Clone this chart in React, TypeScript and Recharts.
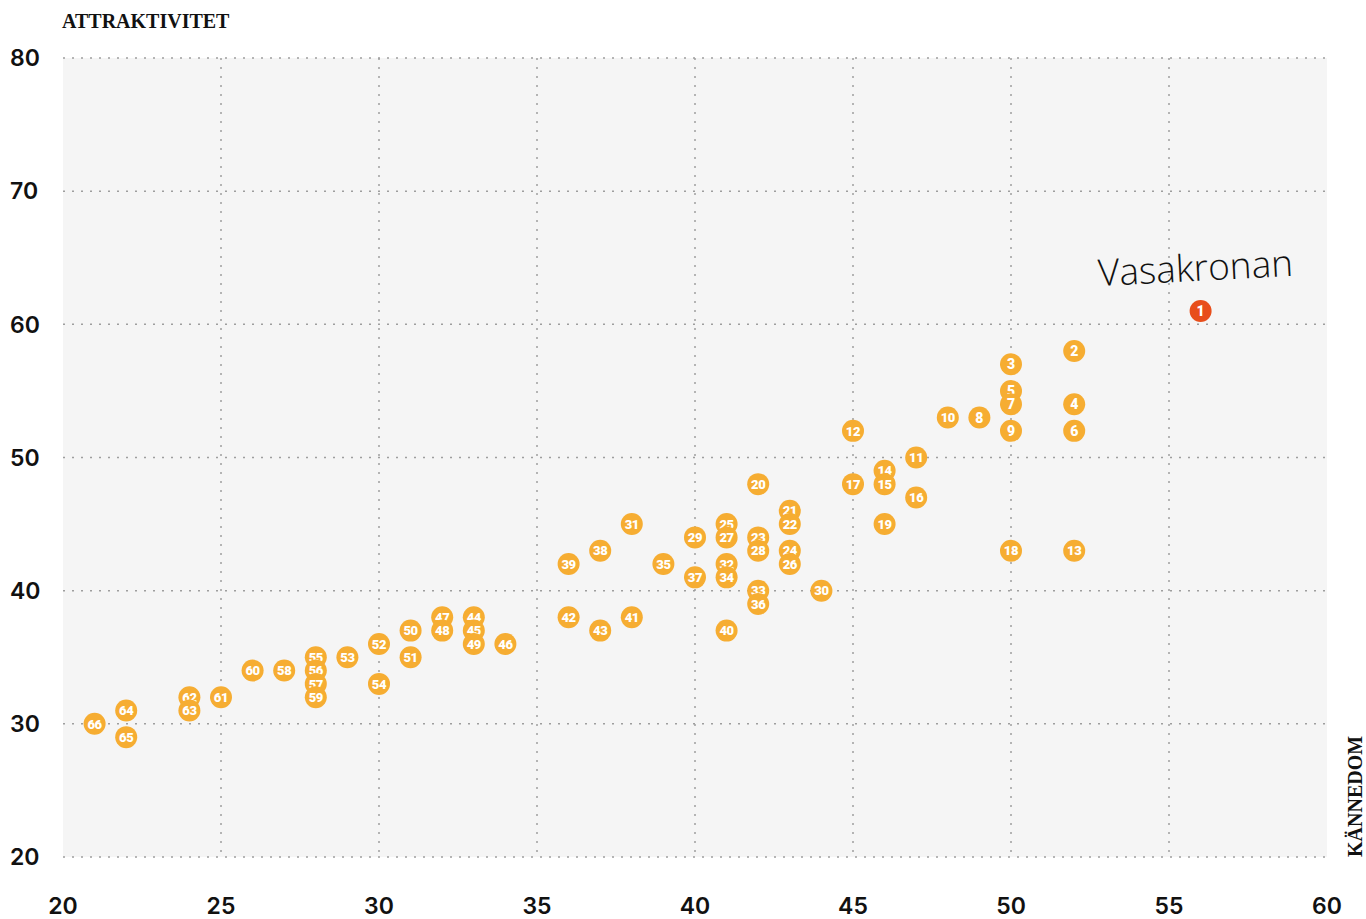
import React from 'react';
import {
    ScatterChart,
    Scatter,
    XAxis,
    YAxis,
    CartesianGrid,
} from 'recharts';

// rank numbers shown inside the dots
const ids = [
    2, 3, 4, 5, 6, 7, 8, 9, 10, 11, 12, 13, 14, 15, 16, 17, 18, 19, 20, 21,
    22, 23, 24, 25, 26, 27, 28, 29, 30, 31, 32, 33, 34, 35, 36, 37, 38, 39, 40, 41,
    42, 43, 44, 45, 46, 47, 48, 49, 50, 51, 52, 53, 54, 55, 56, 57, 58, 59, 60, 61,
    62, 63, 64, 65, 66,
];
// kännedom (x)
const kannedom = [
    52, 50, 52, 50, 52, 50, 49, 50, 48, 47, 45, 52, 46, 46, 47, 45, 50, 46, 42, 43,
    43, 42, 43, 41, 43, 41, 42, 40, 44, 38, 41, 42, 41, 39, 42, 40, 37, 36, 41, 38,
    36, 37, 33, 33, 34, 32, 32, 33, 31, 31, 30, 29, 30, 28, 28, 28, 27, 28, 26, 25,
    24, 24, 22, 22, 21,
];
// attraktivitet (y)
const attraktivitet = [
    58, 57, 54, 55, 52, 54, 53, 52, 53, 50, 52, 43, 49, 48, 47, 48, 43, 45, 48, 46,
    45, 44, 43, 45, 42, 44, 43, 44, 40, 45, 42, 40, 41, 42, 39, 41, 43, 42, 37, 38,
    38, 37, 38, 37, 36, 38, 37, 36, 37, 35, 36, 35, 33, 35, 34, 33, 34, 32, 34, 32,
    32, 31, 31, 29, 30,
];

const highlightName = 'Vasakronan';
const highlight = [{ id: 1, x: 56, y: 61 }];

const xTicks = [20, 25, 30, 35, 40, 45, 50, 55, 60];
const yTicks = [20, 30, 40, 50, 60, 70, 80];

const points = ids.map((id, i) => ({ id, x: kannedom[i], y: attraktivitet[i] }));

const tickFont = "Inter, 'Noto Sans', sans-serif";
const slabFont = "'Liberation Serif', serif";
const dotFont = "Roboto, 'Noto Sans', sans-serif";

const Dot = (props: any) => {
    const { cx, cy, payload, fill } = props;
    return (
        <g>
            <circle cx={cx} cy={cy} r={11} fill={fill} />
            <text
                x={cx}
                y={cy}
                dy="0.36em"
                textAnchor="middle"
                fill="#fff"
                fontFamily={dotFont}
                fontWeight={900}
                fontSize={payload.id > 9 ? 13 : 14}
                letterSpacing={payload.id > 9 ? -0.4 : 0}
            >
                {payload.id}
            </text>
        </g>
    );
};

const HighlightDot = (props: any) => {
    const { cx, cy } = props;
    return (
        <g>
            <Dot {...props} />
            <text
                x={cx - 5}
                y={cy - 30}
                textAnchor="middle"
                fill="#111"
                fontFamily="'Open Sans', sans-serif"
                fontWeight={300}
                fontSize={37}
                transform={`rotate(-3, ${cx - 5}, ${cy - 40})`}
            >
                {highlightName}
            </text>
        </g>
    );
};

const YTick = (props: any) => {
    const { y, payload } = props;
    return (
        <text x={10} y={y} dy="0.36em" textAnchor="start" fill="#111"
            fontFamily={tickFont} fontWeight={600} fontSize={23}>
            {payload.value}
        </text>
    );
};

const XTick = (props: any) => {
    const { x, payload } = props;
    return (
        <text x={x} y={906} dy="0.36em" textAnchor="middle" fill="#111"
            fontFamily={tickFont} fontWeight={600} fontSize={23}>
            {payload.value}
        </text>
    );
};

const App: React.FC = () => {
    return (
        <div style={{ position: 'absolute', left: 0, top: 0, width: 1366, height: 919, background: '#fff' }}>
            <ScatterChart
                width={1366}
                height={919}
                margin={{ top: 58, right: 39, bottom: 0, left: 0 }}
            >
                <CartesianGrid
                    fill="#f5f5f5"
                    stroke="#9e9e9e"
                    strokeWidth={1.5}
                    strokeDasharray="2 7"
                    horizontalValues={yTicks}
                    verticalValues={xTicks.filter(v => v > 20 && v < 60)}
                />
                <XAxis
                    type="number"
                    dataKey="x"
                    domain={[20, 60]}
                    ticks={xTicks}
                    height={62}
                    axisLine={false}
                    tickLine={false}
                    tick={<XTick />}
                    allowDataOverflow
                />
                <YAxis
                    type="number"
                    dataKey="y"
                    domain={[20, 80]}
                    ticks={yTicks}
                    width={63}
                    axisLine={false}
                    tickLine={false}
                    tick={<YTick />}
                    allowDataOverflow
                />
                <Scatter
                    data={points}
                    fill="#f6ad32"
                    shape={<Dot />}
                    isAnimationActive={false}
                />
                <Scatter
                    data={highlight}
                    fill="#e84e1b"
                    shape={<HighlightDot />}
                    isAnimationActive={false}
                />
                <text x={62} y={28} fill="#111" fontFamily={slabFont} fontWeight="bold" fontSize={20}>
                    ATTRAKTIVITET
                </text>
                <text
                    x={1362}
                    y={857}
                    fill="#111"
                    fontFamily={slabFont}
                    fontWeight="bold"
                    fontSize={20}
                    transform="rotate(-90, 1362, 857)"
                >
                    KÄNNEDOM
                </text>
            </ScatterChart>
        </div>
    );
};

export default App;
